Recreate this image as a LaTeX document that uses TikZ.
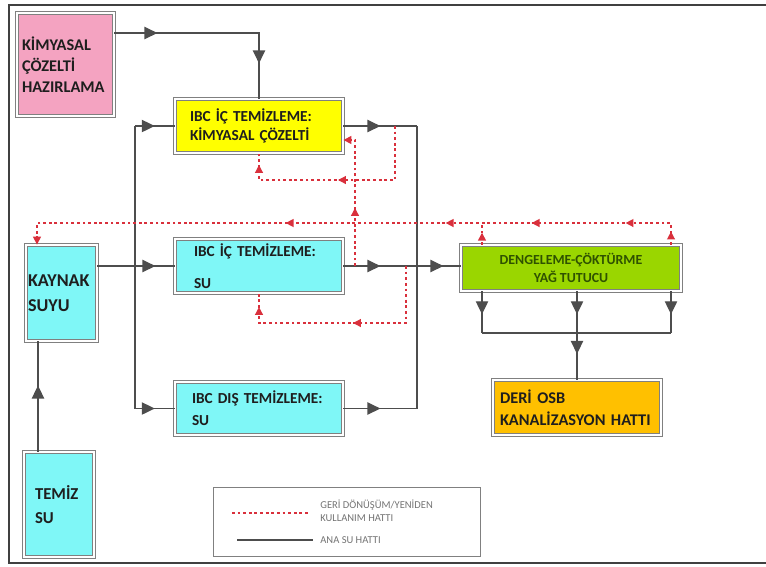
\documentclass[tikz,border=0pt]{standalone}
\usepackage{fontspec}
\setmainfont{Carlito}
\usetikzlibrary{arrows.meta,positioning,decorations.markings}
\definecolor{pinkbox}{HTML}{F4A3C1}
\definecolor{yellowbox}{HTML}{FFFF00}
\definecolor{cyanbox}{HTML}{7FF7F7}
\definecolor{greenbox}{HTML}{9AD600}
\definecolor{orangebox}{HTML}{FFC000}
\definecolor{boxline}{HTML}{808080}
\definecolor{mainwater}{HTML}{4D4D4D}
\definecolor{reuse}{HTML}{D9303C}
\definecolor{darktext}{HTML}{1E1E1E}
\definecolor{greentext}{HTML}{2F5200}
\hyphenpenalty=10000

\begin{document}
\begin{tikzpicture}[x=0.02cm, y=-0.02cm,
  unit/.style={draw=boxline, line width=0.5pt, double=white, double distance=1.5pt,
    align=left, inner ysep=2pt, text=darktext},
  water/.style={draw=mainwater, line width=0.7pt},
  recycle/.style={draw=reuse, line width=0.8pt, dash pattern=on 1.6pt off 1.6pt},
  bigtip/.style={postaction={decorate, decoration={markings,
    mark=at position #1 with {\arrow{Triangle[length=7.4pt, width=7pt]}}}}},
  redtip/.style={postaction={decorate, decoration={markings,
    mark=at position #1 with {\arrow{Triangle[length=4.5pt, width=4.5pt]}}}}},
  legendtext/.style={font=\fontsize{6}{7.5}\selectfont, text=black!55, align=left, inner sep=0pt}]
  \useasboundingbox (0,0) rectangle (766,566);
  \draw[line width=1.3pt, draw=black!75] (766,5) -- (9,5) -- (9,563) -- (766,563);

  % units
  \node[unit, fill=pinkbox, minimum width=1.94cm, minimum height=2.06cm, inner xsep=0.1cm,
    text width=1.74cm, font=\bfseries\fontsize{9.3}{12}\selectfont] (kimhaz) at (65.5,64.5)
    {KİMYASAL\\ÇÖZELTİ\\HAZIRLAMA};
  \node[unit, fill=yellowbox, minimum width=3.36cm, minimum height=1.08cm, inner xsep=0.3cm,
    text width=2.76cm, font=\bfseries\fontsize{8.7}{11}\selectfont] (icchem) at (259,126)
    {IBC İÇ TEMİZLEME:\\KİMYASAL ÇÖZELTİ};
  \node[unit, fill=cyanbox, minimum width=3.36cm, minimum height=1.08cm, inner xsep=0.38cm,
    text width=2.6cm, font=\bfseries\fontsize{8.7}{11}\selectfont] (icsu) at (259,266)
    {IBC İÇ TEMİZLEME:\\[7pt]SU};
  \node[unit, fill=cyanbox, minimum width=3.36cm, minimum height=1.06cm, inner xsep=0.34cm,
    text width=2.68cm, font=\bfseries\fontsize{8.7}{12.5}\selectfont] (disbox) at (259,408.5)
    {IBC DIŞ TEMİZLEME:\\SU};
  \node[unit, fill=cyanbox, minimum width=1.42cm, minimum height=1.92cm, inner xsep=0.04cm,
    text width=1.34cm, font=\bfseries\fontsize{10.3}{14}\selectfont] (kaynak) at (61.5,293)
    {KAYNAK\\SUYU};
  \node[unit, fill=cyanbox, minimum width=1.4cm, minimum height=2.1cm, inner xsep=0.22cm,
    text width=0.96cm, font=\bfseries\fontsize{9.5}{13.6}\selectfont] (temiz) at (59,504.5)
    {TEMİZ\\SU};
  \node[unit, fill=greenbox, minimum width=4.4cm, minimum height=0.92cm, align=center,
    text=greentext, font=\bfseries\fontsize{7.9}{10}\selectfont] (dengeleme) at (571,268)
    {DENGELEME-ÇÖKTÜRME\\YAĞ TUTUCU};
  \node[unit, fill=orangebox, minimum width=3.36cm, minimum height=1.1cm, inner xsep=0.14cm,
    text width=3.08cm, font=\bfseries\fontsize{9.3}{12.5}\selectfont] (osb) at (577,407.5)
    {DERİ OSB\\KANALİZASYON HATTI};

  % legend
  \node[draw=boxline, line width=0.5pt, minimum width=5.34cm, minimum height=1.38cm] (legend) at (346.5,521.5) {};
  \draw[recycle, line width=0.6pt] (232,513) -- (310,513);
  \draw[water, line width=0.6pt] (237,540) -- (313,540);
  \node[legendtext, anchor=west] (reuselabel) at (320,511) {GERİ DÖNÜŞÜM/YENİDEN\\KULLANIM HATTI};
  \node[legendtext, anchor=west] (mainlabel) at (320,540) {ANA SU HATTI};

  % main water lines
  \coordinate (feedturn) at (icchem.north |- 0,33);
  \draw[water, bigtip=0.86cm, bigtip=3.5cm] (kimhaz.east |- feedturn) -- (feedturn) -- (icchem.north);
  \coordinate (busltop) at (icchem.west -| 135,0);
  \coordinate (buslbot) at (disbox.west -| 135,0);
  \draw[water] (busltop) -- (buslbot);
  \draw[water, bigtip=0.5] (busltop) -- (icchem.west);
  \draw[water, bigtip=0.5] (buslbot) -- (disbox.west);
  \draw[water, bigtip=1.16cm] (kaynak.east |- icsu.west) -- (icsu.west);
  \coordinate (supply) at (38,0);
  \draw[water, bigtip=0.6] (temiz.north -| supply) -- (kaynak.south -| supply);

  \coordinate (busrtop) at (icchem.east -| 417,0);
  \coordinate (busrbot) at (disbox.east -| 417,0);
  \draw[water] (busrtop) -- (busrbot);
  \draw[water, bigtip=0.74cm] (icchem.east) -- (busrtop);
  \draw[water, bigtip=0.74cm] (disbox.east) -- (busrbot);
  \draw[water, bigtip=0.74cm, bigtip=2cm] (icsu.east) -- (dengeleme.west |- icsu.east);

  \coordinate (dropl) at (482,333);
  \coordinate (dropm) at (577,333);
  \coordinate (dropr) at (671,333);
  \draw[water, bigtip=0.55] (dengeleme.south -| dropl) -- (dropl);
  \draw[water, bigtip=0.55] (dengeleme.south -| dropm) -- (dropm);
  \draw[water, bigtip=0.55] (dengeleme.south -| dropr) -- (dropr);
  \draw[water] (dropl) -- (dropr);
  \draw[water, bigtip=0.45] (dropm) -- (osb.north);

  % reuse lines
  \coordinate (retright) at (671,223);
  \coordinate (retleft) at (37,223);
  \coordinate (retjoin) at (482,223);
  \draw[recycle, redtip=0.26cm, redtip=1.34cm, redtip=3.22cm, redtip=4.94cm, redtip=8.14cm,
    -{Triangle[length=4.5pt, width=4.5pt]}]
    (dengeleme.north -| retright) -- (retright) -- (retleft) -- (kaynak.north -| retleft);
  \draw[recycle, redtip=0.55] (dengeleme.north -| retjoin) -- (retjoin);

  \coordinate (chemloopa) at (icchem.east -| 395,0);
  \coordinate (chemloopb) at (395,180);
  \coordinate (chemloopc) at (icchem.south |- chemloopb);
  \draw[recycle, redtip=2.22cm, redtip=4.1cm] (chemloopa) -- (chemloopb) -- (chemloopc) -- (icchem.south);

  \coordinate (suup) at (icsu.east -| 355,0);
  \coordinate (suupturn) at (355,140);
  \draw[recycle, redtip=1.16cm, -{Triangle[length=4.5pt, width=4.5pt]}]
    (suup) -- (suupturn) -- (icchem.east |- suupturn);

  \coordinate (suloopa) at (icsu.east -| 406,0);
  \coordinate (suloopb) at (406,323);
  \coordinate (suloopc) at (icsu.south |- suloopb);
  \draw[recycle, redtip=2.2cm, redtip=4.4cm] (suloopa) -- (suloopb) -- (suloopc) -- (icsu.south);
\end{tikzpicture}
\end{document}
